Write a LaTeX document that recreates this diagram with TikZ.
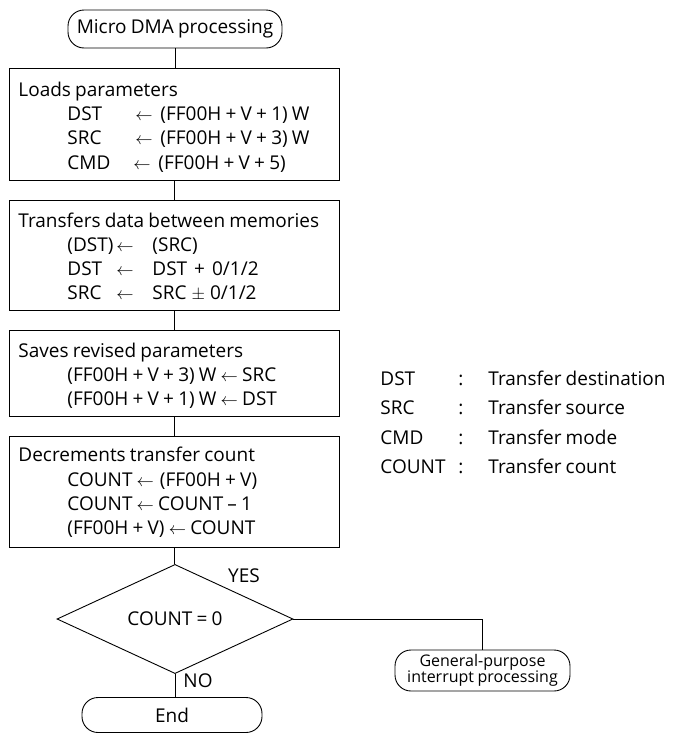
\documentclass[tikz,border=0pt]{standalone}
\usepackage{fontspec}
\setmainfont{Open Sans}[WordSpace=0.85]
\usetikzlibrary{shapes.geometric}
\begin{document}
\begin{tikzpicture}[x=1pt,y=-1pt,line width=0.9pt,
  font=\fontsize{19}{21}\selectfont,
  procbox/.style={draw,rectangle,inner sep=0pt,anchor=north west,minimum width=330pt},
  term/.style={draw,rectangle,rounded corners=16pt,inner sep=0pt},
  txt/.style={inner sep=0pt,anchor=base west},
  dec/.style={draw,diamond,inner sep=0pt,minimum width=236pt,minimum height=104pt}]
\useasboundingbox (0,0) rectangle (674,734);

% start
\node[term,minimum width=214pt,minimum height=38pt] (s) at (175,29) {Micro DMA processing};

% box 1
\node[procbox,minimum height=112pt] (b1) at (9,68) {};
\node[txt] (b1t) at (18,96) {Loads parameters};
\node[txt] (b1a) at (67,120) {DST};
\node[txt] (b1aa) at (135,120) {$\leftarrow$};
\node[txt] (b1ab) at (160,120) {(FF00H + V + 1) W};
\node[txt] (b1b) at (67,144) {SRC};
\node[txt] (b1ba) at (135,144) {$\leftarrow$};
\node[txt] (b1bb) at (160,144) {(FF00H + V + 3) W};
\node[txt] (b1c) at (67,169) {CMD};
\node[txt] (b1ca) at (133,169) {$\leftarrow$};
\node[txt] (b1cb) at (158,169) {(FF00H + V + 5)};

% box 2
\node[procbox,minimum height=110pt] (b2) at (9,200) {};
\node[txt] (b2t) at (18,227) {Transfers data between memories};
\node[txt] (b2a) at (67,251) {(DST)};
\node[txt] (b2aa) at (116,251) {$\leftarrow$};
\node[txt] (b2ab) at (152,251) {(SRC)};
\node[txt] (b2b) at (67,275) {DST};
\node[txt] (b2ba) at (116,275) {$\leftarrow$};
\node[txt] (b2bb) at (152,275) {DST\hspace{7pt}+\hspace{7pt}0/1/2};
\node[txt] (b2c) at (67,299) {SRC};
\node[txt] (b2ca) at (116,299) {$\leftarrow$};
\node[txt] (b2cb) at (152,299) {SRC\hspace{5pt}$\pm$\hspace{5pt}0/1/2};

% box 3
\node[procbox,minimum height=86pt] (b3) at (9,330) {};
\node[txt] (b3t) at (18,357) {Saves revised parameters};
\node[txt] (b3a) at (67,381) {(FF00H + V + 3) W $\leftarrow$ SRC};
\node[txt] (b3b) at (67,405) {(FF00H + V + 1) W $\leftarrow$ DST};

% box 4
\node[procbox,minimum height=111pt] (b4) at (9,436) {};
\node[txt] (b4t) at (18,461) {Decrements transfer count};
\node[txt] (b4a) at (67,486) {COUNT $\leftarrow$\hspace{6pt}(FF00H + V)};
\node[txt] (b4b) at (67,510) {COUNT $\leftarrow$ COUNT -- 1};
\node[txt] (b4c) at (67,534) {(FF00H + V) $\leftarrow$ COUNT};

% decision
\node[dec] (d) at (175,619) {COUNT = 0};
\node[inner sep=0pt] (yes) at (244,576) {YES};
\node[inner sep=0pt] (no) at (198,681) {NO};

% end
\node[term,minimum width=180pt,minimum height=35pt] (e) at (172,715) {End};

% general-purpose
\node[term,minimum width=175pt,minimum height=41pt,align=center,
  font=\fontsize{16}{16}\selectfont] (gp) at (482.5,670.5) {General-purpose\\interrupt processing};

% legend
\node[txt] (l1) at (380,385) {DST};
\node[txt] (l1c) at (458,385) {:};
\node[txt] (l1t) at (488,385) {Transfer destination};
\node[txt] (l2) at (380,414) {SRC};
\node[txt] (l2c) at (458,414) {:};
\node[txt] (l2t) at (488,414) {Transfer source};
\node[txt] (l3) at (380,444) {CMD};
\node[txt] (l3c) at (458,444) {:};
\node[txt] (l3t) at (488,444) {Transfer mode};
\node[txt] (l4) at (380,473) {COUNT};
\node[txt] (l4c) at (458,473) {:};
\node[txt] (l4t) at (488,473) {Transfer count};

% connectors
\draw (s.south) -- (s.south |- b1.north);
\draw (b1.south) -- (b2.north);
\draw (b2.south) -- (b3.north);
\draw (b3.south) -- (b4.north);
\draw (b4.south) -- (b4.south |- d.north);
\draw (d.south) -- (d.south |- e.north);
\draw (d.east) -| (gp.north);
\end{tikzpicture}
\end{document}
